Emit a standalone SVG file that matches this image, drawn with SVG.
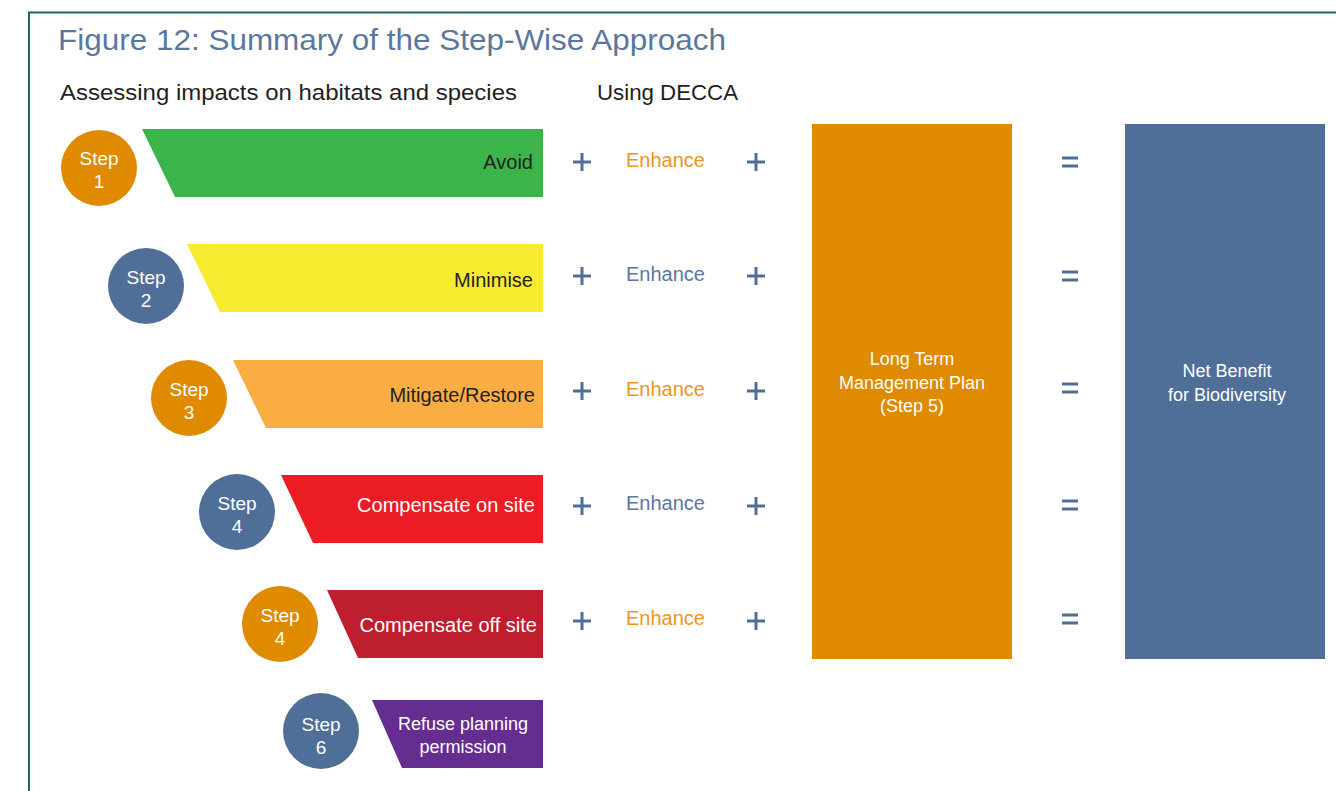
<svg xmlns="http://www.w3.org/2000/svg" width="1336" height="791" viewBox="0 0 1336 791">
<style>
text{font-family:"Liberation Sans","DejaVu Sans",sans-serif}
.title{font-size:30px;fill:#5a77a0}
.sub{font-size:22px;fill:#231f20}
.step{font-size:19px;fill:#fff;text-anchor:middle}
.lbl{font-size:20px;text-anchor:end}
.dark{fill:#231f20}
.white{fill:#fff}
.enh{font-size:20px}
.eo{fill:#f0941f}
.eb{fill:#5a77a0}
.box{font-size:18px;fill:#fff;text-anchor:middle}
.op{stroke:#4f6f99;stroke-width:3;fill:none}
.orange{fill:#e08a00}
.blue{fill:#4f6f99}
</style>
<rect width="1336" height="791" fill="#fff"/>
<path d="M29 791 V12.5 H1336" fill="none" stroke="#1a6b4f" stroke-width="2"/>
<text class="title" x="58" y="50" textLength="668" lengthAdjust="spacingAndGlyphs">Figure 12: Summary of the Step-Wise Approach</text>
<text class="sub" x="60" y="100" textLength="457" lengthAdjust="spacingAndGlyphs">Assessing impacts on habitats and species</text>
<text class="sub" x="597" y="100" textLength="141" lengthAdjust="spacingAndGlyphs">Using DECCA</text>

<g id="step1">
<circle class="orange" cx="99" cy="168" r="38"/>
<text class="step" x="99" y="165">Step</text><text class="step" x="99" y="188">1</text>
<polygon points="142,129 543,129 543,197 175,197" fill="#3bb54a"/>
<text class="lbl dark" x="533" y="169">Avoid</text>
</g>
<g id="step2">
<circle class="blue" cx="146" cy="286" r="38"/>
<text class="step" x="146" y="284">Step</text><text class="step" x="146" y="307">2</text>
<polygon points="187,244 543,244 543,312 220,312" fill="#f7eb30"/>
<text class="lbl dark" x="533" y="287">Minimise</text>
</g>
<g id="step3">
<circle class="orange" cx="189" cy="398" r="38"/>
<text class="step" x="189" y="396">Step</text><text class="step" x="189" y="419">3</text>
<polygon points="233,360 543,360 543,428 266,428" fill="#f9ad42"/>
<text class="lbl dark" x="535" y="402">Mitigate/Restore</text>
</g>
<g id="step4a">
<circle class="blue" cx="237" cy="512" r="38"/>
<text class="step" x="237" y="510">Step</text><text class="step" x="237" y="533">4</text>
<polygon points="281,475 543,475 543,543 313,543" fill="#ec1c24"/>
<text class="lbl white" x="535" y="512">Compensate on site</text>
</g>
<g id="step4b">
<circle class="orange" cx="280" cy="624" r="38"/>
<text class="step" x="280" y="622">Step</text><text class="step" x="280" y="645">4</text>
<polygon points="327,590 543,590 543,658 358,658" fill="#be1e2d"/>
<text class="lbl white" x="537" y="632">Compensate off site</text>
</g>
<g id="step6">
<circle class="blue" cx="321" cy="731" r="38"/>
<text class="step" x="321" y="731">Step</text><text class="step" x="321" y="754">6</text>
<polygon points="372,700 543,700 543,768 402,768" fill="#662d91"/>
<text class="box" x="463" y="730">Refuse planning</text>
<text class="box" x="463" y="753">permission</text>
</g>

<g id="enhance">
<text class="enh eo" x="626" y="167">Enhance</text>
<text class="enh eb" x="626" y="281">Enhance</text>
<text class="enh eo" x="626" y="396">Enhance</text>
<text class="enh eb" x="626" y="510">Enhance</text>
<text class="enh eo" x="626" y="625">Enhance</text>
</g>

<g id="operators" class="op">
<path d="M573 162h18M582 153v18M747 162h18M756 153v18"/>
<path d="M573 276h18M582 267v18M747 276h18M756 267v18"/>
<path d="M573 391h18M582 382v18M747 391h18M756 382v18"/>
<path d="M573 506h18M582 497v18M747 506h18M756 497v18"/>
<path d="M573 621h18M582 612v18M747 621h18M756 612v18"/>
<path d="M1062 158h16M1062 166h16"/>
<path d="M1062 272h16M1062 280h16"/>
<path d="M1062 384h16M1062 392h16"/>
<path d="M1062 501h16M1062 509h16"/>
<path d="M1062 615h16M1062 623h16"/>
</g>

<g id="ltmp">
<rect class="orange" x="812" y="124" width="200" height="535"/>
<text class="box" x="912" y="365">Long Term</text>
<text class="box" x="912" y="389">Management Plan</text>
<text class="box" x="912" y="412">(Step 5)</text>
</g>
<g id="netbenefit">
<rect class="blue" x="1125" y="124" width="200" height="535"/>
<text class="box" x="1227" y="377">Net Benefit</text>
<text class="box" x="1227" y="401">for Biodiversity</text>
</g>
</svg>
